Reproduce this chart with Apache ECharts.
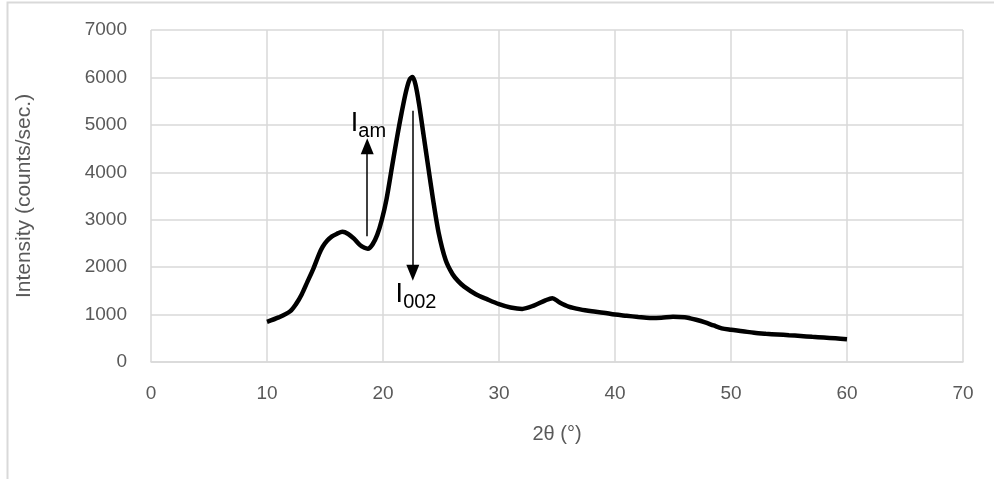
<!DOCTYPE html>
<html>
<head>
<meta charset="utf-8">
<script src="https://cdn.jsdelivr.net/npm/echarts@6/dist/echarts.min.js"></script>
<style>
html,body{margin:0;padding:0;background:#fff;}
#chart{width:994px;height:479px;}
</style>
</head>
<body>
<div id="chart"></div>
<script>
// 2θ (degrees)
const twoTheta = [10, 11, 12, 12.5, 13, 13.5, 14, 14.5, 14.8, 15.2, 15.6, 16, 16.5, 17, 17.5, 18, 18.4, 18.7,
  19.1, 19.5, 19.9, 20.3, 20.8, 21.2, 21.6, 22.0, 22.3, 22.55, 22.8, 23.1, 23.5, 23.9, 24.3, 24.8, 25.4,
  26, 26.5, 27, 28, 29, 30, 31, 32, 33, 34, 34.6, 35.2, 36, 37, 38, 39, 40, 41, 42, 43, 44, 45, 46, 46.5,
  47, 47.7, 48.5, 49.2, 50, 51, 52, 53, 54, 55, 56, 57, 58, 59, 60];
// Intensity (counts/sec.)
const intensity = [848, 940, 1070, 1220, 1430, 1700, 1970, 2280, 2430, 2560, 2650, 2700, 2745, 2700, 2600, 2470, 2410, 2390,
  2480, 2680, 3000, 3430, 4150, 4720, 5250, 5720, 5960, 6010, 5850, 5450, 4780, 4112, 3450, 2720, 2150,
  1850, 1700, 1590, 1430, 1320, 1220, 1150, 1120, 1190, 1300, 1345, 1260, 1170, 1110, 1070, 1040, 1000, 975, 950, 930, 935, 955, 945, 920,
  890, 840, 770, 710, 680, 650, 615, 595, 580, 565, 550, 530, 515, 500, 480];

// Annotation arrows: [x, yStart, yEnd]
const arrowAm = [18.64, 2650, 4550];
const arrow002 = [22.57, 5300, 1880];
// Annotation labels: [x, y]
const labelAmPos = [18.75, 5050];
const label002Pos = [22.85, 1450];

const xTicks = {min: 0, max: 70, interval: 10};
const yTicks = {min: 0, max: 7000, interval: 1000};

const FONT = 'Liberation Sans';
const chart = echarts.init(document.getElementById('chart'));
const data = twoTheta.map((x, i) => [x, intensity[i]]);

chart.setOption({
  animation: false,
  backgroundColor: '#fff',
  textStyle: {fontFamily: FONT},
  grid: {left: 151, right: 31, top: 30, bottom: 117},
  graphic: [{
    type: 'rect', left: 5, top: 0, z: -1,
    shape: {x: 0, y: 0, width: 1100, height: 700},
    style: {fill: 'none', stroke: '#d9d9d9', lineWidth: 2}
  }],
  xAxis: {
    type: 'value', min: xTicks.min, max: xTicks.max, interval: xTicks.interval,
    name: '2θ (°)', nameLocation: 'middle', nameGap: 62,
    nameTextStyle: {color: '#595959', fontSize: 20, fontFamily: FONT},
    axisLine: {show: true, lineStyle: {color: '#d9d9d9', width: 1.5}},
    axisTick: {show: false},
    axisLabel: {color: '#595959', fontSize: 19, margin: 22, fontFamily: FONT, formatter: v => String(v)},
    splitLine: {show: true, lineStyle: {color: '#d9d9d9', width: 1.5}}
  },
  yAxis: {
    type: 'value', min: yTicks.min, max: yTicks.max, interval: yTicks.interval,
    name: 'Intensity (counts/sec.)', nameLocation: 'middle', nameGap: 116,
    nameTextStyle: {color: '#595959', fontSize: 21, fontFamily: FONT},
    axisLine: {show: false},
    axisTick: {show: false},
    axisLabel: {color: '#595959', fontSize: 19, margin: 24, fontFamily: FONT, formatter: v => String(v)},
    splitLine: {show: true, lineStyle: {color: '#d9d9d9', width: 1.5}}
  },
  series: [{
    type: 'line',
    data: data,
    showSymbol: false,
    smooth: 0.3,
    lineStyle: {color: '#000', width: 4.5},
    markLine: {
      silent: true,
      symbol: ['none', 'triangle'],
      symbolSize: [13, 16],
      label: {show: false},
      lineStyle: {color: '#000', width: 1.5, type: 'solid'},
      data: [
        [{coord: [arrowAm[0], arrowAm[1]]}, {coord: [arrowAm[0], arrowAm[2]]}],
        [{coord: [arrow002[0], arrow002[1]]}, {coord: [arrow002[0], arrow002[2]]}]
      ]
    },
    markPoint: {
      silent: true,
      symbol: 'circle',
      symbolSize: 0,
      label: {
        show: true,
        position: 'inside',
        rich: {
          m: {fontSize: 27, color: '#000', fontFamily: FONT, verticalAlign: 'bottom', lineHeight: 30},
          s: {fontSize: 20, color: '#000', fontFamily: FONT, verticalAlign: 'bottom', lineHeight: 24, padding: [0, 0, -4, 0]}
        }
      },
      data: [
        {coord: labelAmPos, label: {formatter: '{m|I}{s|am}'}},
        {coord: label002Pos, label: {formatter: '{m|I}{s|002}'}}
      ]
    }
  }]
});
</script>
</body>
</html>
